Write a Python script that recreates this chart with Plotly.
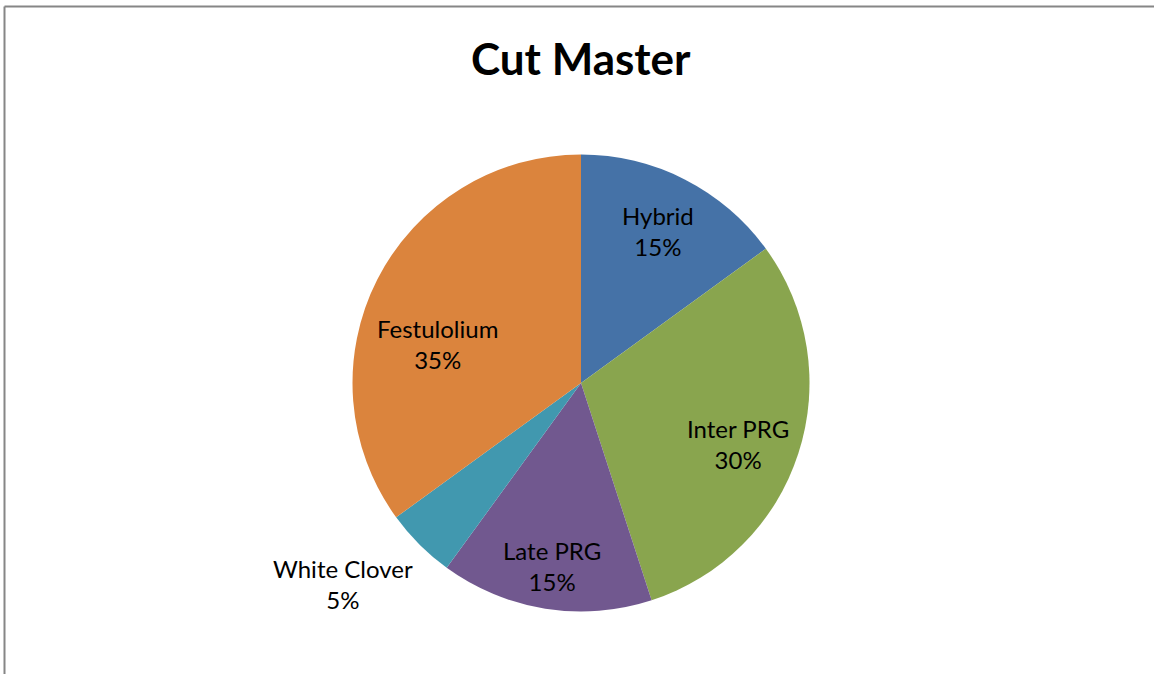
import math
import plotly.graph_objects as go

labels = ["Hybrid", "Inter PRG", "Late PRG", "White Clover", "Festulolium"]
values = [15, 30, 15, 5, 35]
colors = ["#4572A7", "#89A54E", "#71588F", "#4198AF", "#DB843D"]
label_radius = [0.745, 0.737, 0.81, 1.362, 0.649]  # fraction of pie radius (style)
label_angle_shift = [0, 3.2, 0, 4.8, -11.7]          # degrees (style)

W, H = 1154, 674
cx, cy, R = 581, 383, 228.5

fig = go.Figure(go.Pie(
    labels=labels, values=values, sort=False, direction="clockwise", rotation=0,
    marker=dict(colors=colors, line=dict(width=0)),
    textinfo="none", hoverinfo="label+percent", showlegend=False,
    domain=dict(x=[(cx - R) / W, (cx + R) / W], y=[1 - (cy + R) / H, 1 - (cy - R) / H]),
))

total = sum(values)
cum = 0
annotations = []
for lab, v, rf, sh in zip(labels, values, label_radius, label_angle_shift):
    mid = (cum + v / 2) / total * 2 * math.pi + math.radians(sh)
    cum += v
    px = cx + rf * R * math.sin(mid)
    py = cy - rf * R * math.cos(mid)
    annotations.append(dict(
        x=px / W, y=1 - py / H, xref="paper", yref="paper",
        xanchor="center", yanchor="middle",
        text=f"{lab}<br>{round(v / total * 100)}%", showarrow=False,
        font=dict(family="Lato", size=24, color="#000000"), align="center",
    ))

annotations.append(dict(x=cx / W, y=1 - 58 / H, xref="paper", yref="paper",
                        xanchor="center", yanchor="middle",
                        text="<b>Cut Master</b>", showarrow=False,
                        font=dict(family="Lato", size=44, color="#000000")))

fig.update_layout(
    width=W, height=H, margin=dict(l=0, r=0, t=0, b=0),
    paper_bgcolor="white", plot_bgcolor="white",
    annotations=annotations,
    shapes=[
        dict(type="line", xref="paper", yref="paper", x0=4.5 / W, x1=1, y0=1 - 6.5 / H, y1=1 - 6.5 / H,
             line=dict(color="#868686", width=2)),
        dict(type="line", xref="paper", yref="paper", x0=4.5 / W, x1=4.5 / W, y0=0, y1=1 - 6.5 / H,
             line=dict(color="#868686", width=2)),
    ],
)
fig.write_html("out.html", config={"displayModeBar": False},
               post_script="document.body.style.margin='0';document.body.style.overflow='hidden';")
